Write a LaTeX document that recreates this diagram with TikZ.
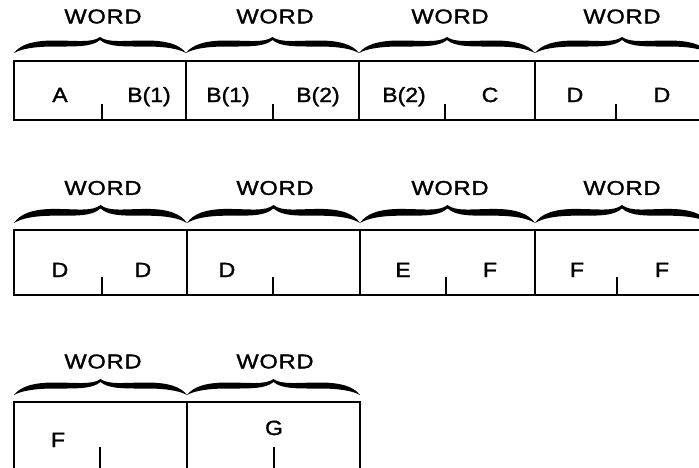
\documentclass[tikz,border=0pt]{standalone}
\usepackage{fontspec}
\setmainfont{Liberation Sans}[FakeStretch=1.12,FakeBold=1.5]
\newfontfamily\wordfont{Liberation Sans}[FakeStretch=1.18,FakeBold=1.5,LetterSpace=4]
\tikzset{
  boxline/.style={line width=1.9pt, line cap=rect},
  tickline/.style={line width=1.7pt},
  lbl/.style={font=\fontsize{20.5}{22}\selectfont, anchor=base, inner sep=0pt},
  wordlbl/.style={font=\fontsize{20}{22}\wordfont, anchor=center, inner sep=0pt},
  bracepic/.pic={
    \fill (0,0) .. controls (6,-8) and (18,-12.5) .. (40,-12.5)
      .. controls (62,-12.5) and (78,-10) .. (86,-16)
      .. controls (94,-10) and (110,-12.5) .. (132,-12.5)
      .. controls (154,-12.5) and (166,-8) .. (172,0)
      .. controls (165,-4) and (152,-6.5) .. (132,-6.5)
      .. controls (110,-6.5) and (94,-6) .. (86,-13)
      .. controls (78,-6) and (62,-6.5) .. (40,-6.5)
      .. controls (20,-6.5) and (7,-4) .. (0,0) -- cycle;
  }
}
\newcommand{\wbrace}[4]{% x0, x1, yend, ytip
  \pic[xscale={(#2-#1)/172}, yscale={(#3-#4)/16}] at (#1,#3) {bracepic};}
\begin{document}
\begin{tikzpicture}[x=1pt,y=-1pt]
\useasboundingbox (0,0) rectangle (699,467);
\clip (0,0) rectangle (699,467);
% ---------- row 1 ----------
\draw[boxline] (14,61) rectangle (712,120);
\foreach \x in {186,359,535} \draw[boxline] (\x,61) -- (\x,120);
\wbrace{14}{186}{53}{37}
\wbrace{186}{359}{53}{37}
\wbrace{359}{535}{53}{37}
\wbrace{535}{709}{53}{37}
\node[wordlbl] (w1) at (103,16.5) {WORD};
\node[wordlbl] (w2) at (275,16.5) {WORD};
\node[wordlbl] (w3) at (450,16.5) {WORD};
\node[wordlbl] (w4) at (622,16.5) {WORD};
\node[lbl] (a1) at (60,102) {A};
\node[lbl] (b1) at (149,102) {B(1)};
\node[lbl] (b1b) at (228,102) {B(1)};
\node[lbl] (b2) at (318,102) {B(2)};
\node[lbl] (b2b) at (404,102) {B(2)};
\node[lbl] (c1) at (490,102) {C};
\node[lbl] (d1) at (575,102) {D};
\node[lbl] (d2) at (662,102) {D};
\foreach \x in {102,273,445,616} \draw[tickline] (\x,104) -- (\x,120);
% ---------- row 2 ----------
\draw[boxline] (14,230) rectangle (712,295);
\foreach \x in {187,360,535} \draw[boxline] (\x,230) -- (\x,295);
\wbrace{14}{187}{223}{205}
\wbrace{187}{360}{223}{205}
\wbrace{360}{535}{223}{205}
\wbrace{535}{709}{223}{205}
\node[wordlbl] (w5) at (103,188) {WORD};
\node[wordlbl] (w6) at (275,188) {WORD};
\node[wordlbl] (w7) at (450,188) {WORD};
\node[wordlbl] (w8) at (622,188) {WORD};
\node[lbl] (d3) at (60,277) {D};
\node[lbl] (d4) at (143,277) {D};
\node[lbl] (d5) at (227,277) {D};
\node[lbl] (e1) at (403,277) {E};
\node[lbl] (f1) at (490,277) {F};
\node[lbl] (f2) at (577,277) {F};
\node[lbl] (f3) at (662,277) {F};
\foreach \x in {102,273,446,617} \draw[tickline] (\x,277) -- (\x,295);
% ---------- row 3 ----------
\draw[boxline] (14,475) -- (14,402) -- (360,402) -- (360,475);
\draw[boxline] (187,402) -- (187,475);
\wbrace{14}{187}{395}{379}
\wbrace{187}{360}{395}{379}
\node[wordlbl] (w9) at (103,361.5) {WORD};
\node[wordlbl] (w10) at (275,361.5) {WORD};
\node[lbl] (f4) at (58,447) {F};
\node[lbl] (g1) at (274,435) {G};
\foreach \x in {100,274} \draw[tickline] (\x,447) -- (\x,475);
\end{tikzpicture}
\end{document}
